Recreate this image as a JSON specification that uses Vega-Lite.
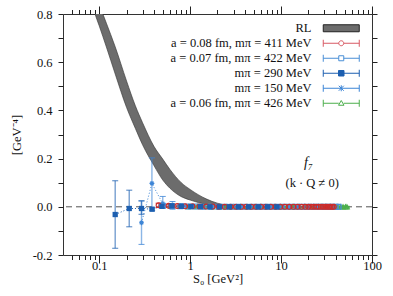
{
  "$schema": "https://vega.github.io/schema/vega-lite/v6.json",
  "width": 309,
  "height": 241,
  "autosize": {"type": "none"},
  "padding": {"left": 63, "top": 14, "right": 21, "bottom": 41},
  "config": {
    "font": "Liberation Serif",
    "view": {"stroke": "#333", "strokeWidth": 1},
    "axis": {"domain": false, "grid": false, "ticks": true, "tickColor": "#222", "tickWidth": 1, "tickOpacity": 1, "labelColor": "#111", "labelFont": "Liberation Serif", "labelFontSize": 12.5, "titleFont": "Liberation Serif", "titleFontSize": 12.5, "titleFontWeight": "normal", "titleColor": "#111", "labelFlush": false, "labelOverlap": false}
  },
  "datasets": {
    "band": [
      {"x": 0.085, "lo": 0.83, "hi": 0.91},
      {"x": 0.09, "lo": 0.8, "hi": 0.885},
      {"x": 0.1, "lo": 0.751, "hi": 0.84},
      {"x": 0.12, "lo": 0.663, "hi": 0.762},
      {"x": 0.15, "lo": 0.551, "hi": 0.664},
      {"x": 0.2, "lo": 0.412, "hi": 0.522},
      {"x": 0.25, "lo": 0.325, "hi": 0.419},
      {"x": 0.3, "lo": 0.257, "hi": 0.349},
      {"x": 0.4, "lo": 0.171, "hi": 0.251},
      {"x": 0.5, "lo": 0.111, "hi": 0.198},
      {"x": 0.6, "lo": 0.077, "hi": 0.155},
      {"x": 0.8, "lo": 0.042, "hi": 0.1},
      {"x": 1.0, "lo": 0.028, "hi": 0.072},
      {"x": 1.5, "lo": 0.01, "hi": 0.033},
      {"x": 2.0, "lo": 0.004, "hi": 0.015},
      {"x": 3.0, "lo": 0.0, "hi": 0.004}
    ],
    "pts": [
      {"s": "a = 0.06 fm, mπ = 426 MeV", "x": 0.62, "y": 0.003, "lo": -0.003, "hi": 0.009},
      {"s": "a = 0.06 fm, mπ = 426 MeV", "x": 0.78, "y": 0.002, "lo": -0.002, "hi": 0.006},
      {"s": "a = 0.06 fm, mπ = 426 MeV", "x": 0.97, "y": 0.001, "lo": -0.002, "hi": 0.004},
      {"s": "a = 0.06 fm, mπ = 426 MeV", "x": 1.2, "y": 0.001, "lo": -0.002, "hi": 0.004},
      {"s": "a = 0.06 fm, mπ = 426 MeV", "x": 1.45, "y": 0.001, "lo": -0.001, "hi": 0.003},
      {"s": "a = 0.06 fm, mπ = 426 MeV", "x": 1.75, "y": 0.0, "lo": -0.002, "hi": 0.002},
      {"s": "a = 0.06 fm, mπ = 426 MeV", "x": 2.1, "y": 0.0, "lo": -0.002, "hi": 0.002},
      {"s": "a = 0.06 fm, mπ = 426 MeV", "x": 2.5, "y": 0.0, "lo": -0.002, "hi": 0.002},
      {"s": "a = 0.06 fm, mπ = 426 MeV", "x": 3.0, "y": 0.0, "lo": -0.002, "hi": 0.002},
      {"s": "a = 0.06 fm, mπ = 426 MeV", "x": 3.6, "y": 0.0, "lo": -0.002, "hi": 0.002},
      {"s": "a = 0.06 fm, mπ = 426 MeV", "x": 4.3, "y": 0.0, "lo": -0.002, "hi": 0.002},
      {"s": "a = 0.06 fm, mπ = 426 MeV", "x": 5.1, "y": 0.0, "lo": -0.002, "hi": 0.002},
      {"s": "a = 0.06 fm, mπ = 426 MeV", "x": 6.0, "y": 0.0, "lo": -0.002, "hi": 0.002},
      {"s": "a = 0.06 fm, mπ = 426 MeV", "x": 7.1, "y": 0.0, "lo": -0.002, "hi": 0.002},
      {"s": "a = 0.06 fm, mπ = 426 MeV", "x": 8.4, "y": 0.0, "lo": -0.002, "hi": 0.002},
      {"s": "a = 0.06 fm, mπ = 426 MeV", "x": 9.9, "y": 0.0, "lo": -0.002, "hi": 0.002},
      {"s": "a = 0.06 fm, mπ = 426 MeV", "x": 11.6, "y": 0.0, "lo": -0.002, "hi": 0.002},
      {"s": "a = 0.06 fm, mπ = 426 MeV", "x": 13.5, "y": 0.0, "lo": -0.002, "hi": 0.002},
      {"s": "a = 0.06 fm, mπ = 426 MeV", "x": 15.7, "y": 0.0, "lo": -0.002, "hi": 0.002},
      {"s": "a = 0.06 fm, mπ = 426 MeV", "x": 18.2, "y": 0.0, "lo": -0.002, "hi": 0.002},
      {"s": "a = 0.06 fm, mπ = 426 MeV", "x": 21.0, "y": 0.0, "lo": -0.002, "hi": 0.002},
      {"s": "a = 0.06 fm, mπ = 426 MeV", "x": 24.0, "y": 0.0, "lo": -0.002, "hi": 0.002},
      {"s": "a = 0.06 fm, mπ = 426 MeV", "x": 27.5, "y": 0.0, "lo": -0.002, "hi": 0.002},
      {"s": "a = 0.06 fm, mπ = 426 MeV", "x": 31.0, "y": 0.0, "lo": -0.002, "hi": 0.002},
      {"s": "a = 0.06 fm, mπ = 426 MeV", "x": 35.0, "y": 0.0, "lo": -0.002, "hi": 0.002},
      {"s": "a = 0.06 fm, mπ = 426 MeV", "x": 39.0, "y": 0.0, "lo": -0.002, "hi": 0.002},
      {"s": "a = 0.06 fm, mπ = 426 MeV", "x": 42.0, "y": 0.0, "lo": -0.002, "hi": 0.002},
      {"s": "a = 0.06 fm, mπ = 426 MeV", "x": 45.0, "y": 0.0, "lo": -0.002, "hi": 0.002},
      {"s": "a = 0.06 fm, mπ = 426 MeV", "x": 48.0, "y": 0.0, "lo": -0.002, "hi": 0.002},
      {"s": "a = 0.06 fm, mπ = 426 MeV", "x": 51.0, "y": 0.0, "lo": -0.002, "hi": 0.002},
      {"s": "a = 0.06 fm, mπ = 426 MeV", "x": 53.0, "y": 0.0, "lo": -0.002, "hi": 0.002},

      {"s": "mπ = 150 MeV", "x": 0.292, "y": -0.066, "lo": -0.156, "hi": 0.024},
      {"s": "mπ = 150 MeV", "x": 0.38, "y": 0.097, "lo": -0.009, "hi": 0.203},
      {"s": "mπ = 150 MeV", "x": 0.5, "y": 0.013, "lo": -0.006, "hi": 0.043},
      {"s": "mπ = 150 MeV", "x": 0.64, "y": 0.006, "lo": -0.01, "hi": 0.022},
      {"s": "mπ = 150 MeV", "x": 0.82, "y": 0.003, "lo": -0.006, "hi": 0.012},
      {"s": "mπ = 150 MeV", "x": 1.05, "y": 0.002, "lo": -0.004, "hi": 0.008},
      {"s": "mπ = 150 MeV", "x": 1.35, "y": 0.001, "lo": -0.003, "hi": 0.005},
      {"s": "mπ = 150 MeV", "x": 1.7, "y": 0.0, "lo": -0.003, "hi": 0.003},
      {"s": "mπ = 150 MeV", "x": 2.2, "y": 0.0, "lo": -0.003, "hi": 0.003},
      {"s": "mπ = 150 MeV", "x": 2.8, "y": 0.0, "lo": -0.002, "hi": 0.002},
      {"s": "mπ = 150 MeV", "x": 3.6, "y": 0.0, "lo": -0.002, "hi": 0.002},
      {"s": "mπ = 150 MeV", "x": 4.6, "y": 0.0, "lo": -0.002, "hi": 0.002},
      {"s": "mπ = 150 MeV", "x": 5.9, "y": 0.0, "lo": -0.002, "hi": 0.002},
      {"s": "mπ = 150 MeV", "x": 7.5, "y": 0.0, "lo": -0.002, "hi": 0.002},
      {"s": "mπ = 150 MeV", "x": 9.6, "y": 0.0, "lo": -0.002, "hi": 0.002},
      {"s": "mπ = 150 MeV", "x": 12.2, "y": 0.0, "lo": -0.002, "hi": 0.002},
      {"s": "mπ = 150 MeV", "x": 15.5, "y": 0.0, "lo": -0.002, "hi": 0.002},
      {"s": "mπ = 150 MeV", "x": 19.7, "y": 0.0, "lo": -0.002, "hi": 0.002},
      {"s": "mπ = 150 MeV", "x": 25.0, "y": 0.0, "lo": -0.002, "hi": 0.002},

      {"s": "a = 0.07 fm, mπ = 422 MeV", "x": 0.5, "y": 0.004, "lo": -0.002, "hi": 0.01},
      {"s": "a = 0.07 fm, mπ = 422 MeV", "x": 0.63, "y": 0.003, "lo": -0.001, "hi": 0.007},
      {"s": "a = 0.07 fm, mπ = 422 MeV", "x": 0.78, "y": 0.002, "lo": -0.001, "hi": 0.005},
      {"s": "a = 0.07 fm, mπ = 422 MeV", "x": 0.95, "y": 0.001, "lo": -0.001, "hi": 0.003},
      {"s": "a = 0.07 fm, mπ = 422 MeV", "x": 1.15, "y": 0.001, "lo": -0.001, "hi": 0.003},
      {"s": "a = 0.07 fm, mπ = 422 MeV", "x": 1.4, "y": 0.0, "lo": -0.002, "hi": 0.002},
      {"s": "a = 0.07 fm, mπ = 422 MeV", "x": 1.7, "y": 0.0, "lo": -0.002, "hi": 0.002},
      {"s": "a = 0.07 fm, mπ = 422 MeV", "x": 2.05, "y": 0.0, "lo": -0.002, "hi": 0.002},
      {"s": "a = 0.07 fm, mπ = 422 MeV", "x": 2.45, "y": 0.0, "lo": -0.002, "hi": 0.002},
      {"s": "a = 0.07 fm, mπ = 422 MeV", "x": 2.9, "y": 0.0, "lo": -0.002, "hi": 0.002},
      {"s": "a = 0.07 fm, mπ = 422 MeV", "x": 3.4, "y": 0.0, "lo": -0.002, "hi": 0.002},
      {"s": "a = 0.07 fm, mπ = 422 MeV", "x": 4.0, "y": 0.0, "lo": -0.002, "hi": 0.002},
      {"s": "a = 0.07 fm, mπ = 422 MeV", "x": 4.7, "y": 0.0, "lo": -0.002, "hi": 0.002},
      {"s": "a = 0.07 fm, mπ = 422 MeV", "x": 5.5, "y": 0.0, "lo": -0.002, "hi": 0.002},
      {"s": "a = 0.07 fm, mπ = 422 MeV", "x": 6.4, "y": 0.0, "lo": -0.002, "hi": 0.002},
      {"s": "a = 0.07 fm, mπ = 422 MeV", "x": 7.4, "y": 0.0, "lo": -0.002, "hi": 0.002},
      {"s": "a = 0.07 fm, mπ = 422 MeV", "x": 8.6, "y": 0.0, "lo": -0.002, "hi": 0.002},
      {"s": "a = 0.07 fm, mπ = 422 MeV", "x": 10.0, "y": 0.0, "lo": -0.002, "hi": 0.002},
      {"s": "a = 0.07 fm, mπ = 422 MeV", "x": 11.5, "y": 0.0, "lo": -0.002, "hi": 0.002},
      {"s": "a = 0.07 fm, mπ = 422 MeV", "x": 13.2, "y": 0.0, "lo": -0.002, "hi": 0.002},
      {"s": "a = 0.07 fm, mπ = 422 MeV", "x": 15.0, "y": 0.0, "lo": -0.002, "hi": 0.002},
      {"s": "a = 0.07 fm, mπ = 422 MeV", "x": 17.0, "y": 0.0, "lo": -0.002, "hi": 0.002},
      {"s": "a = 0.07 fm, mπ = 422 MeV", "x": 19.2, "y": 0.0, "lo": -0.002, "hi": 0.002},
      {"s": "a = 0.07 fm, mπ = 422 MeV", "x": 21.6, "y": 0.0, "lo": -0.002, "hi": 0.002},
      {"s": "a = 0.07 fm, mπ = 422 MeV", "x": 24.2, "y": 0.0, "lo": -0.002, "hi": 0.002},
      {"s": "a = 0.07 fm, mπ = 422 MeV", "x": 27.0, "y": 0.0, "lo": -0.002, "hi": 0.002},
      {"s": "a = 0.07 fm, mπ = 422 MeV", "x": 30.0, "y": 0.0, "lo": -0.002, "hi": 0.002},
      {"s": "a = 0.07 fm, mπ = 422 MeV", "x": 33.0, "y": 0.0, "lo": -0.002, "hi": 0.002},
      {"s": "a = 0.07 fm, mπ = 422 MeV", "x": 36.5, "y": 0.0, "lo": -0.002, "hi": 0.002},
      {"s": "a = 0.07 fm, mπ = 422 MeV", "x": 40.0, "y": 0.0, "lo": -0.002, "hi": 0.002},
      {"s": "a = 0.07 fm, mπ = 422 MeV", "x": 43.0, "y": 0.0, "lo": -0.002, "hi": 0.002},

      {"s": "a = 0.08 fm, mπ = 411 MeV", "x": 0.45, "y": 0.006, "lo": -0.003, "hi": 0.015},
      {"s": "a = 0.08 fm, mπ = 411 MeV", "x": 0.58, "y": 0.004, "lo": -0.002, "hi": 0.01},
      {"s": "a = 0.08 fm, mπ = 411 MeV", "x": 0.72, "y": 0.003, "lo": -0.001, "hi": 0.007},
      {"s": "a = 0.08 fm, mπ = 411 MeV", "x": 0.88, "y": 0.002, "lo": -0.001, "hi": 0.005},
      {"s": "a = 0.08 fm, mπ = 411 MeV", "x": 1.06, "y": 0.002, "lo": 0.0, "hi": 0.004},
      {"s": "a = 0.08 fm, mπ = 411 MeV", "x": 1.27, "y": 0.001, "lo": -0.001, "hi": 0.003},
      {"s": "a = 0.08 fm, mπ = 411 MeV", "x": 1.5, "y": 0.001, "lo": -0.001, "hi": 0.003},
      {"s": "a = 0.08 fm, mπ = 411 MeV", "x": 1.77, "y": 0.001, "lo": -0.001, "hi": 0.003},
      {"s": "a = 0.08 fm, mπ = 411 MeV", "x": 2.07, "y": 0.0, "lo": -0.002, "hi": 0.002},
      {"s": "a = 0.08 fm, mπ = 411 MeV", "x": 2.4, "y": 0.0, "lo": -0.002, "hi": 0.002},
      {"s": "a = 0.08 fm, mπ = 411 MeV", "x": 2.78, "y": 0.0, "lo": -0.002, "hi": 0.002},
      {"s": "a = 0.08 fm, mπ = 411 MeV", "x": 3.2, "y": 0.0, "lo": -0.002, "hi": 0.002},
      {"s": "a = 0.08 fm, mπ = 411 MeV", "x": 3.65, "y": 0.0, "lo": -0.002, "hi": 0.002},
      {"s": "a = 0.08 fm, mπ = 411 MeV", "x": 4.15, "y": 0.0, "lo": -0.002, "hi": 0.002},
      {"s": "a = 0.08 fm, mπ = 411 MeV", "x": 4.7, "y": 0.0, "lo": -0.002, "hi": 0.002},
      {"s": "a = 0.08 fm, mπ = 411 MeV", "x": 5.3, "y": 0.0, "lo": -0.002, "hi": 0.002},
      {"s": "a = 0.08 fm, mπ = 411 MeV", "x": 6.0, "y": 0.0, "lo": -0.002, "hi": 0.002},
      {"s": "a = 0.08 fm, mπ = 411 MeV", "x": 6.8, "y": 0.0, "lo": -0.002, "hi": 0.002},
      {"s": "a = 0.08 fm, mπ = 411 MeV", "x": 7.7, "y": 0.0, "lo": -0.002, "hi": 0.002},
      {"s": "a = 0.08 fm, mπ = 411 MeV", "x": 8.7, "y": 0.0, "lo": -0.002, "hi": 0.002},
      {"s": "a = 0.08 fm, mπ = 411 MeV", "x": 9.8, "y": 0.0, "lo": -0.002, "hi": 0.002},
      {"s": "a = 0.08 fm, mπ = 411 MeV", "x": 11.0, "y": 0.0, "lo": -0.002, "hi": 0.002},
      {"s": "a = 0.08 fm, mπ = 411 MeV", "x": 12.3, "y": 0.0, "lo": -0.002, "hi": 0.002},
      {"s": "a = 0.08 fm, mπ = 411 MeV", "x": 13.7, "y": 0.0, "lo": -0.002, "hi": 0.002},
      {"s": "a = 0.08 fm, mπ = 411 MeV", "x": 15.2, "y": 0.0, "lo": -0.002, "hi": 0.002},
      {"s": "a = 0.08 fm, mπ = 411 MeV", "x": 16.8, "y": 0.0, "lo": -0.002, "hi": 0.002},
      {"s": "a = 0.08 fm, mπ = 411 MeV", "x": 18.5, "y": 0.0, "lo": -0.002, "hi": 0.002},
      {"s": "a = 0.08 fm, mπ = 411 MeV", "x": 20.0, "y": 0.0, "lo": -0.002, "hi": 0.002},
      {"s": "a = 0.08 fm, mπ = 411 MeV", "x": 21.5, "y": 0.0, "lo": -0.002, "hi": 0.002},
      {"s": "a = 0.08 fm, mπ = 411 MeV", "x": 23.0, "y": 0.0, "lo": -0.002, "hi": 0.002},
      {"s": "a = 0.08 fm, mπ = 411 MeV", "x": 24.5, "y": 0.0, "lo": -0.002, "hi": 0.002},
      {"s": "a = 0.08 fm, mπ = 411 MeV", "x": 26.0, "y": 0.0, "lo": -0.002, "hi": 0.002},
      {"s": "a = 0.08 fm, mπ = 411 MeV", "x": 27.5, "y": 0.0, "lo": -0.002, "hi": 0.002},
      {"s": "a = 0.08 fm, mπ = 411 MeV", "x": 29.0, "y": 0.0, "lo": -0.002, "hi": 0.002},
      {"s": "a = 0.08 fm, mπ = 411 MeV", "x": 30.5, "y": 0.0, "lo": -0.002, "hi": 0.002},
      {"s": "a = 0.08 fm, mπ = 411 MeV", "x": 32.0, "y": 0.0, "lo": -0.002, "hi": 0.002},
      {"s": "a = 0.08 fm, mπ = 411 MeV", "x": 33.5, "y": 0.0, "lo": -0.002, "hi": 0.002},
      {"s": "a = 0.08 fm, mπ = 411 MeV", "x": 35.0, "y": 0.0, "lo": -0.002, "hi": 0.002},
      {"s": "a = 0.08 fm, mπ = 411 MeV", "x": 36.5, "y": 0.0, "lo": -0.002, "hi": 0.002},
      {"s": "a = 0.08 fm, mπ = 411 MeV", "x": 38.0, "y": 0.0, "lo": -0.002, "hi": 0.002},

      {"s": "mπ = 290 MeV", "x": 0.15, "y": -0.032, "lo": -0.172, "hi": 0.108},
      {"s": "mπ = 290 MeV", "x": 0.214, "y": -0.007, "lo": -0.083, "hi": 0.069},
      {"s": "mπ = 290 MeV", "x": 0.292, "y": -0.007, "lo": -0.031, "hi": 0.025},
      {"s": "mπ = 290 MeV", "x": 0.382, "y": -0.01, "lo": -0.016, "hi": -0.004},
      {"s": "mπ = 290 MeV", "x": 0.49, "y": 0.002, "lo": -0.004, "hi": 0.008},
      {"s": "mπ = 290 MeV", "x": 0.63, "y": 0.004, "lo": 0.0, "hi": 0.008},
      {"s": "mπ = 290 MeV", "x": 0.8, "y": 0.002, "lo": -0.001, "hi": 0.005},
      {"s": "mπ = 290 MeV", "x": 1.02, "y": 0.001, "lo": -0.001, "hi": 0.003},
      {"s": "mπ = 290 MeV", "x": 1.3, "y": 0.001, "lo": -0.001, "hi": 0.003},
      {"s": "mπ = 290 MeV", "x": 1.65, "y": 0.0, "lo": -0.002, "hi": 0.002},
      {"s": "mπ = 290 MeV", "x": 2.1, "y": 0.0, "lo": -0.002, "hi": 0.002},
      {"s": "mπ = 290 MeV", "x": 2.7, "y": 0.0, "lo": -0.002, "hi": 0.002},
      {"s": "mπ = 290 MeV", "x": 3.4, "y": 0.0, "lo": -0.002, "hi": 0.002},
      {"s": "mπ = 290 MeV", "x": 4.4, "y": 0.0, "lo": -0.002, "hi": 0.002},
      {"s": "mπ = 290 MeV", "x": 5.6, "y": 0.0, "lo": -0.002, "hi": 0.002},
      {"s": "mπ = 290 MeV", "x": 7.1, "y": 0.0, "lo": -0.002, "hi": 0.002},
      {"s": "mπ = 290 MeV", "x": 9.0, "y": 0.0, "lo": -0.002, "hi": 0.002}
    ]
  },
  "layer": [
    {
      "data": {"name": "band"},
      "mark": {"type": "area", "color": "#6c6c6c", "stroke": "#333", "strokeWidth": 0.6, "interpolate": "monotone", "clip": true},
      "encoding": {
        "x": {"field": "x", "type": "quantitative", "scale": {"type": "log", "domain": [0.04, 100], "nice": false},
          "axis": {"orient": "bottom", "title": "S₀   [GeV²]", "titlePadding": 1, "tickSize": 8, "tickColor": "#222", "tickWidth": 1,
            "values": [0.1, 1, 10, 100], "format": "~g", "labelPadding": -4}},
        "y": {"field": "lo", "type": "quantitative", "scale": {"domain": [-0.2, 0.8], "nice": false, "zero": false},
          "axis": {"orient": "left", "title": "[GeV⁻⁴]", "titlePadding": 9, "tickSize": 5, "tickColor": "#222", "tickWidth": 1,
            "values": [-0.2, -0.1, 0, 0.1, 0.2, 0.3, 0.4, 0.5, 0.6, 0.7, 0.8],
            "labelExpr": "abs(round(datum.value * 10)) % 2 == 0 ? replace(format(datum.value, '.1f'), '−', '-') : ''",
            "labelPadding": 6}},
        "y2": {"field": "hi"}
      }
    },
    {
      "data": {"values": [{}]},
      "mark": {"type": "rule", "color": "#555", "strokeDash": [6, 4], "strokeWidth": 1},
      "encoding": {"y": {"datum": 0, "type": "quantitative", "axis": null}}
    },
    {
      "data": {"name": "pts"},
      "mark": {"type": "line", "strokeDash": [1, 2], "strokeWidth": 1, "clip": true},
      "encoding": {
        "x": {"field": "x", "type": "quantitative", "scale": {"type": "log", "domain": [0.04, 100], "nice": false}, "axis": null},
        "y": {"field": "y", "type": "quantitative", "scale": {"domain": [-0.2, 0.8], "nice": false, "zero": false}, "axis": null},
        "order": {"field": "x"},
        "color": {"field": "s", "type": "nominal", "legend": null,
          "scale": {"domain": ["a = 0.08 fm, mπ = 411 MeV", "a = 0.07 fm, mπ = 422 MeV", "mπ = 290 MeV", "mπ = 150 MeV", "a = 0.06 fm, mπ = 426 MeV"],
                    "range": ["#cc2a2a", "#4a8fd6", "#1c5fb0", "#3d85d6", "#4caf4c"]}}
      }
    },
    {
      "data": {"name": "pts"},
      "mark": {"type": "rule", "opacity": 0.6, "strokeWidth": 1.4, "clip": true},
      "encoding": {
        "x": {"field": "x", "type": "quantitative", "scale": {"type": "log", "domain": [0.04, 100], "nice": false},
          "axis": {"orient": "bottom", "title": null, "labels": false, "tickSize": 4.5, "tickColor": "#222", "tickWidth": 1,
            "values": [0.05, 0.06, 0.07, 0.08, 0.09, 0.2, 0.3, 0.4, 0.5, 0.6, 0.7, 0.8, 0.9, 2, 3, 4, 5, 6, 7, 8, 9, 20, 30, 40, 50, 60, 70, 80, 90]}},
        "y": {"field": "lo", "type": "quantitative", "scale": {"domain": [-0.2, 0.8], "nice": false, "zero": false},
          "axis": {"orient": "right", "title": null, "labels": false, "tickSize": 5, "tickColor": "#222", "tickWidth": 1,
            "values": [-0.2, -0.1, 0, 0.1, 0.2, 0.3, 0.4, 0.5, 0.6, 0.7, 0.8]}},
        "y2": {"field": "hi"},
        "color": {"field": "s", "type": "nominal", "legend": null}
      }
    },
    {
      "data": {"name": "pts"},
      "mark": {"type": "tick", "orient": "horizontal", "size": 6, "thickness": 1, "opacity": 0.8, "clip": true},
      "encoding": {
        "x": {"field": "x", "type": "quantitative", "scale": {"type": "log", "domain": [0.04, 100], "nice": false}, "axis": null},
        "y": {"field": "hi", "type": "quantitative", "scale": {"domain": [-0.2, 0.8], "nice": false, "zero": false}, "axis": null},
        "color": {"field": "s", "type": "nominal", "legend": null}
      }
    },
    {
      "data": {"name": "pts"},
      "mark": {"type": "tick", "orient": "horizontal", "size": 6, "thickness": 1, "opacity": 0.8, "clip": true},
      "encoding": {
        "x": {"field": "x", "type": "quantitative", "scale": {"type": "log", "domain": [0.04, 100], "nice": false}, "axis": null},
        "y": {"field": "lo", "type": "quantitative", "scale": {"domain": [-0.2, 0.8], "nice": false, "zero": false}, "axis": null},
        "color": {"field": "s", "type": "nominal", "legend": null}
      }
    },
    {
      "data": {"name": "pts"},
      "transform": [{"filter": "datum.s != 'mπ = 290 MeV'"}],
      "mark": {"type": "point", "filled": false, "strokeWidth": 1.1, "opacity": 1, "clip": true},
      "encoding": {
        "x": {"field": "x", "type": "quantitative", "scale": {"type": "log", "domain": [0.04, 100], "nice": false},
          "axis": {"orient": "top", "title": null, "labels": false, "tickSize": 8, "tickColor": "#222", "tickWidth": 1, "values": [0.1, 1, 10, 100]}},
        "y": {"field": "y", "type": "quantitative", "scale": {"domain": [-0.2, 0.8], "nice": false, "zero": false}, "axis": null},
        "color": {"field": "s", "type": "nominal", "legend": null},
        "shape": {"field": "s", "type": "nominal", "legend": null,
          "scale": {"domain": ["a = 0.08 fm, mπ = 411 MeV", "a = 0.07 fm, mπ = 422 MeV", "mπ = 150 MeV", "a = 0.06 fm, mπ = 426 MeV"],
                    "range": ["circle", "square", "M-1,0H1M0,-1V1M-0.7,-0.7L0.7,0.7M-0.7,0.7L0.7,-0.7", "triangle-up"]}},
        "size": {"value": 24}
      }
    },
    {
      "data": {"name": "pts"},
      "transform": [{"filter": "datum.s == 'mπ = 290 MeV'"}],
      "mark": {"type": "square", "filled": true, "size": 28, "opacity": 1, "clip": true},
      "encoding": {
        "x": {"field": "x", "type": "quantitative", "scale": {"type": "log", "domain": [0.04, 100], "nice": false},
          "axis": {"orient": "top", "title": null, "labels": false, "tickSize": 4.5, "tickColor": "#222", "tickWidth": 1,
            "values": [0.05, 0.06, 0.07, 0.08, 0.09, 0.2, 0.3, 0.4, 0.5, 0.6, 0.7, 0.8, 0.9, 2, 3, 4, 5, 6, 7, 8, 9, 20, 30, 40, 50, 60, 70, 80, 90]}},
        "y": {"field": "y", "type": "quantitative", "scale": {"domain": [-0.2, 0.8], "nice": false, "zero": false}, "axis": null},
        "color": {"field": "s", "type": "nominal", "legend": null}
      }
    },
    {
      "data": {"name": "pts"},
      "mark": {"type": "point", "opacity": 0, "clip": true},
      "encoding": {
        "x": {"field": "x", "type": "quantitative", "scale": {"type": "log", "domain": [0.04, 100], "nice": false}, "axis": null},
        "y": {"field": "y", "type": "quantitative", "scale": {"domain": [-0.2, 0.8], "nice": false, "zero": false}, "axis": null},
        "shape": {"field": "s", "type": "nominal",
          "scale": {"domain": ["RL", "a = 0.08 fm, mπ = 411 MeV", "a = 0.07 fm, mπ = 422 MeV", "mπ = 290 MeV", "mπ = 150 MeV", "a = 0.06 fm, mπ = 426 MeV"],
                    "range": [
                      "M-3.6,-0.7H3.6V0.7H-3.6Z",
                      "M-3.6,0H-0.5M0.5,0H3.6M-3.6,-0.7V0.7M3.6,-0.7V0.7M0.5,0A0.5,0.5,0,1,1,-0.5,0A0.5,0.5,0,1,1,0.5,0Z",
                      "M-3.6,0H-0.5M0.5,0H3.6M-3.6,-0.7V0.7M3.6,-0.7V0.7M-0.5,-0.5H0.5V0.5H-0.5Z",
                      "M-3.6,0H3.6M-3.6,-0.7V0.7M3.6,-0.7V0.7M-0.55,-0.55H0.55V0.55H-0.55Z",
                      "M-3.6,0H3.6M-3.6,-0.7V0.7M3.6,-0.7V0.7M0,-0.6V0.6M-0.5,-0.5L0.5,0.5M-0.5,0.5L0.5,-0.5",
                      "M-3.6,0H-0.5M0.5,0H3.6M-3.6,-0.7V0.7M3.6,-0.7V0.7M0,-0.55L0.55,0.4H-0.55Z"
                    ]},
          "legend": {"orient": "none", "legendX": 272, "legendY": 8, "title": null, "symbolSize": 100, "symbolOpacity": 1, "symbolStrokeWidth": 1, "labelAlign": "right", "labelOffset": -36, "labelFont": "Liberation Serif", "labelFontSize": 12.5, "labelColor": "#111", "labelLimit": 400, "rowPadding": 2}},
        "stroke": {"field": "s", "type": "nominal",
          "scale": {"domain": ["RL", "a = 0.08 fm, mπ = 411 MeV", "a = 0.07 fm, mπ = 422 MeV", "mπ = 290 MeV", "mπ = 150 MeV", "a = 0.06 fm, mπ = 426 MeV"],
                    "range": ["#222", "#d85a64", "#4a8fd6", "#1c5fb0", "#3d85d6", "#4caf4c"]},
          "legend": {"orient": "none", "legendX": 272, "legendY": 8, "title": null, "symbolSize": 100, "symbolOpacity": 1, "symbolStrokeWidth": 1, "labelAlign": "right", "labelOffset": -36, "labelFont": "Liberation Serif", "labelFontSize": 12.5, "labelColor": "#111", "labelLimit": 400, "rowPadding": 2}},
        "fill": {"field": "s", "type": "nominal",
          "scale": {"domain": ["RL", "a = 0.08 fm, mπ = 411 MeV", "a = 0.07 fm, mπ = 422 MeV", "mπ = 290 MeV", "mπ = 150 MeV", "a = 0.06 fm, mπ = 426 MeV"],
                    "range": ["#6c6c6c", "white", "white", "#1c5fb0", "white", "white"]},
          "legend": {"orient": "none", "legendX": 272, "legendY": 8, "title": null, "symbolSize": 100, "symbolOpacity": 1, "symbolStrokeWidth": 1, "labelAlign": "right", "labelOffset": -36, "labelFont": "Liberation Serif", "labelFontSize": 12.5, "labelColor": "#111", "labelLimit": 400, "rowPadding": 2}}
      }
    },
    {
      "data": {"values": [{}]},
      "mark": {"type": "text", "font": "Liberation Serif", "fontStyle": "italic", "fontSize": 14, "color": "#111"},
      "encoding": {
        "x": {"datum": 20, "type": "quantitative", "axis": null},
        "y": {"datum": 0.18, "type": "quantitative", "axis": null},
        "text": {"value": "f₇"}
      }
    },
    {
      "data": {"values": [{}]},
      "mark": {"type": "text", "font": "Liberation Serif", "fontSize": 12.5, "color": "#111"},
      "encoding": {
        "x": {"datum": 22, "type": "quantitative", "axis": null},
        "y": {"datum": 0.1, "type": "quantitative", "axis": null},
        "text": {"value": "(k · Q ≠ 0)"}
      }
    }
  ],
  "resolve": {
    "scale": {"shape": "independent", "stroke": "independent", "fill": "independent"},
    "axis": {"x": "independent", "y": "independent"}
  }
}
